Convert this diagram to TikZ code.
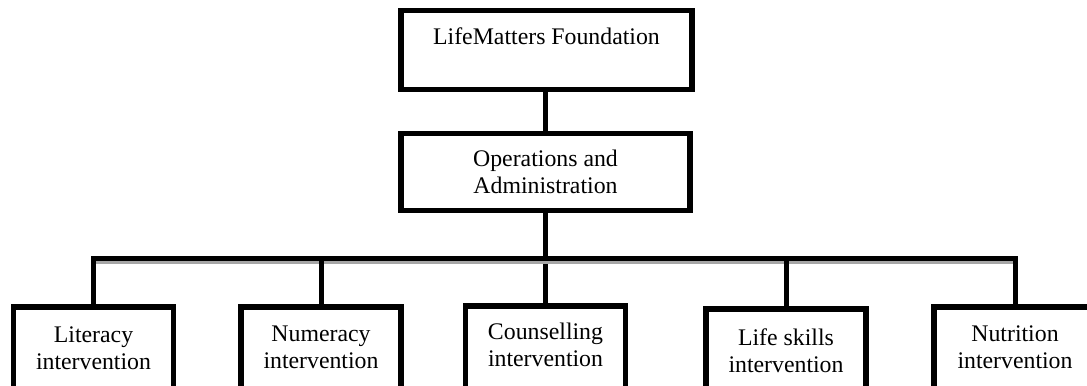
\documentclass[tikz,border=0pt]{standalone}
\usepackage{fontspec}
\setmainfont{Liberation Serif}
\usetikzlibrary{calc}
\begin{document}
\begin{tikzpicture}[x=0.75pt,y=-0.75pt,
  box/.style={draw=black,line width=4.125pt,fill=white,inner sep=0pt,align=center,
    font=\fontsize{17.85pt}{19.9pt}\selectfont},
  leaf/.style={box,minimum width=120pt,text depth=7.5pt},
  link/.style={draw=black,line width=3.75pt},
  linkshadow/.style={draw=black!35,line width=3.75pt}]
\useasboundingbox (0,0) rectangle (1087,385);
\clip (0,0) rectangle (1087,385);
\fill[white] (0,0) rectangle (1087,385);
% boxes
\node[box,minimum width=218.6pt,text height=25.69pt,text depth=33.19pt] (top) at (546.5,50) {LifeMatters Foundation};
\node[box,minimum width=217.1pt,minimum height=57.4pt] (ops) at (545.5,172) {Operations and\\Administration};
\node[leaf,minimum height=69.15pt] (lit) at (93.5,352.85) {Literacy\\intervention};
\node[leaf,minimum height=68.4pt] (num) at (321,352.35) {Numeracy\\intervention};
\node[leaf,minimum height=66.15pt] (cou) at (545.5,349.85) {Counselling\\intervention};
\node[leaf,minimum height=70.65pt] (life) at (786,355.85) {Life skills\\intervention};
\node[leaf,minimum width=121.9pt,minimum height=67.65pt] (nut) at (1015,351.85) {Nutrition\\intervention};
% connectors
\coordinate (bus) at (545.5,258.3);
\draw[link] (ops.north |- top.south) -- (ops.north);
\draw[link] (ops.south) -- (cou.north);
\draw[linkshadow] ($(lit.north |- bus)+(2,3.5)$) -- ($(nut.north |- bus)+(2,3.5)$);
\draw[link] (lit.north) |- (bus) -| (nut.north);
\draw[link] (num.north) -- (num.north |- bus);
\draw[link] (life.north) -- (life.north |- bus);
\end{tikzpicture}
\end{document}
